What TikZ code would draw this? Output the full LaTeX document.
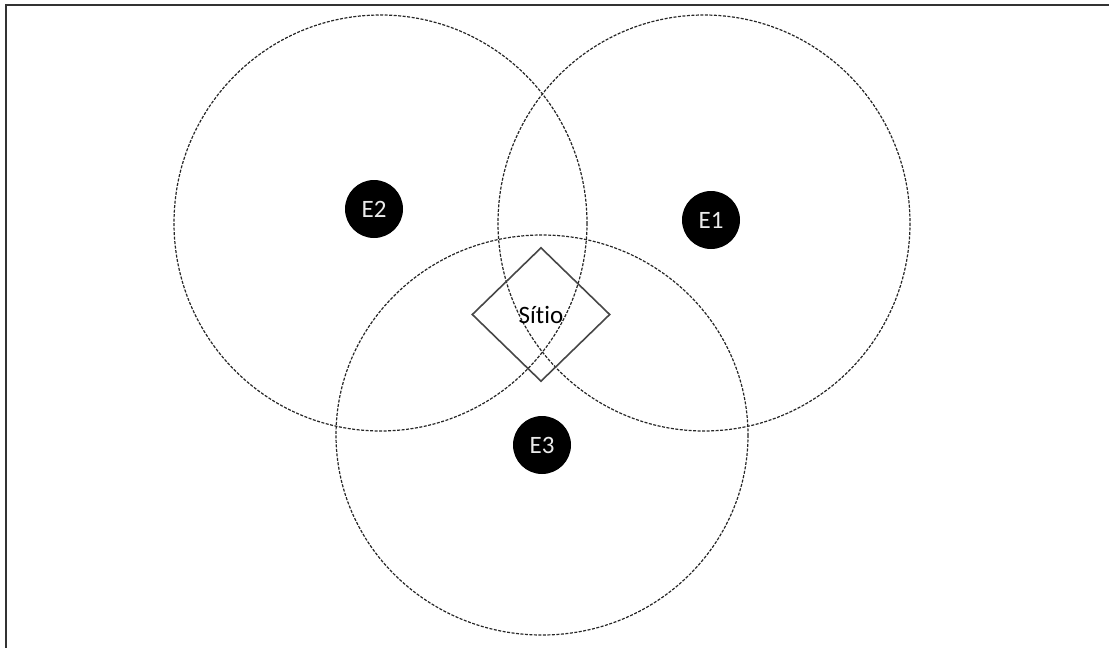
\documentclass[tikz,border=0pt]{standalone}
\usepackage{fontspec}
\setmainfont{Carlito}[Ligatures=NoCommon]
\usetikzlibrary{shapes.geometric}

\tikzset{
  reach/.style={draw=black!85, dash pattern=on 3pt off 1.5pt, line width=1.2pt},
  station/.style={circle, fill=black, minimum size=58pt, inner sep=0pt,
    text=white!92!black, font=\fontsize{25}{30}\selectfont},
  site/.style={diamond, draw=black!72, line width=1.6pt, minimum width=138pt,
    minimum height=134pt, inner sep=0pt, font=\fontsize{25}{30}\selectfont},
  frame/.style={draw=black!80, line width=2pt}
}

\begin{document}
\begin{tikzpicture}[x=1pt, y=-1pt]
\useasboundingbox (0, 0) rectangle (1109, 648);

\draw[frame] (6, 648)--(6, 5)--(1109, 5);

\coordinate (c1) at (704, 223);
\coordinate (c2) at (380.5, 223);
\coordinate (c3) at (542, 435);

\draw[reach] (c2) ellipse (206.5 and 208);
\draw[reach] (c1) ellipse (206 and 208);
\draw[reach] (c3) ellipse (206 and 200);

\node[station] (E2) at (374, 209) {E2};
\node[station] (E1) at (711, 220) {E1};
\node[station] (E3) at (542, 445) {E3};

\node[site] (sitio) at (541, 314.5) {Sítio};

\end{tikzpicture}
\end{document}
